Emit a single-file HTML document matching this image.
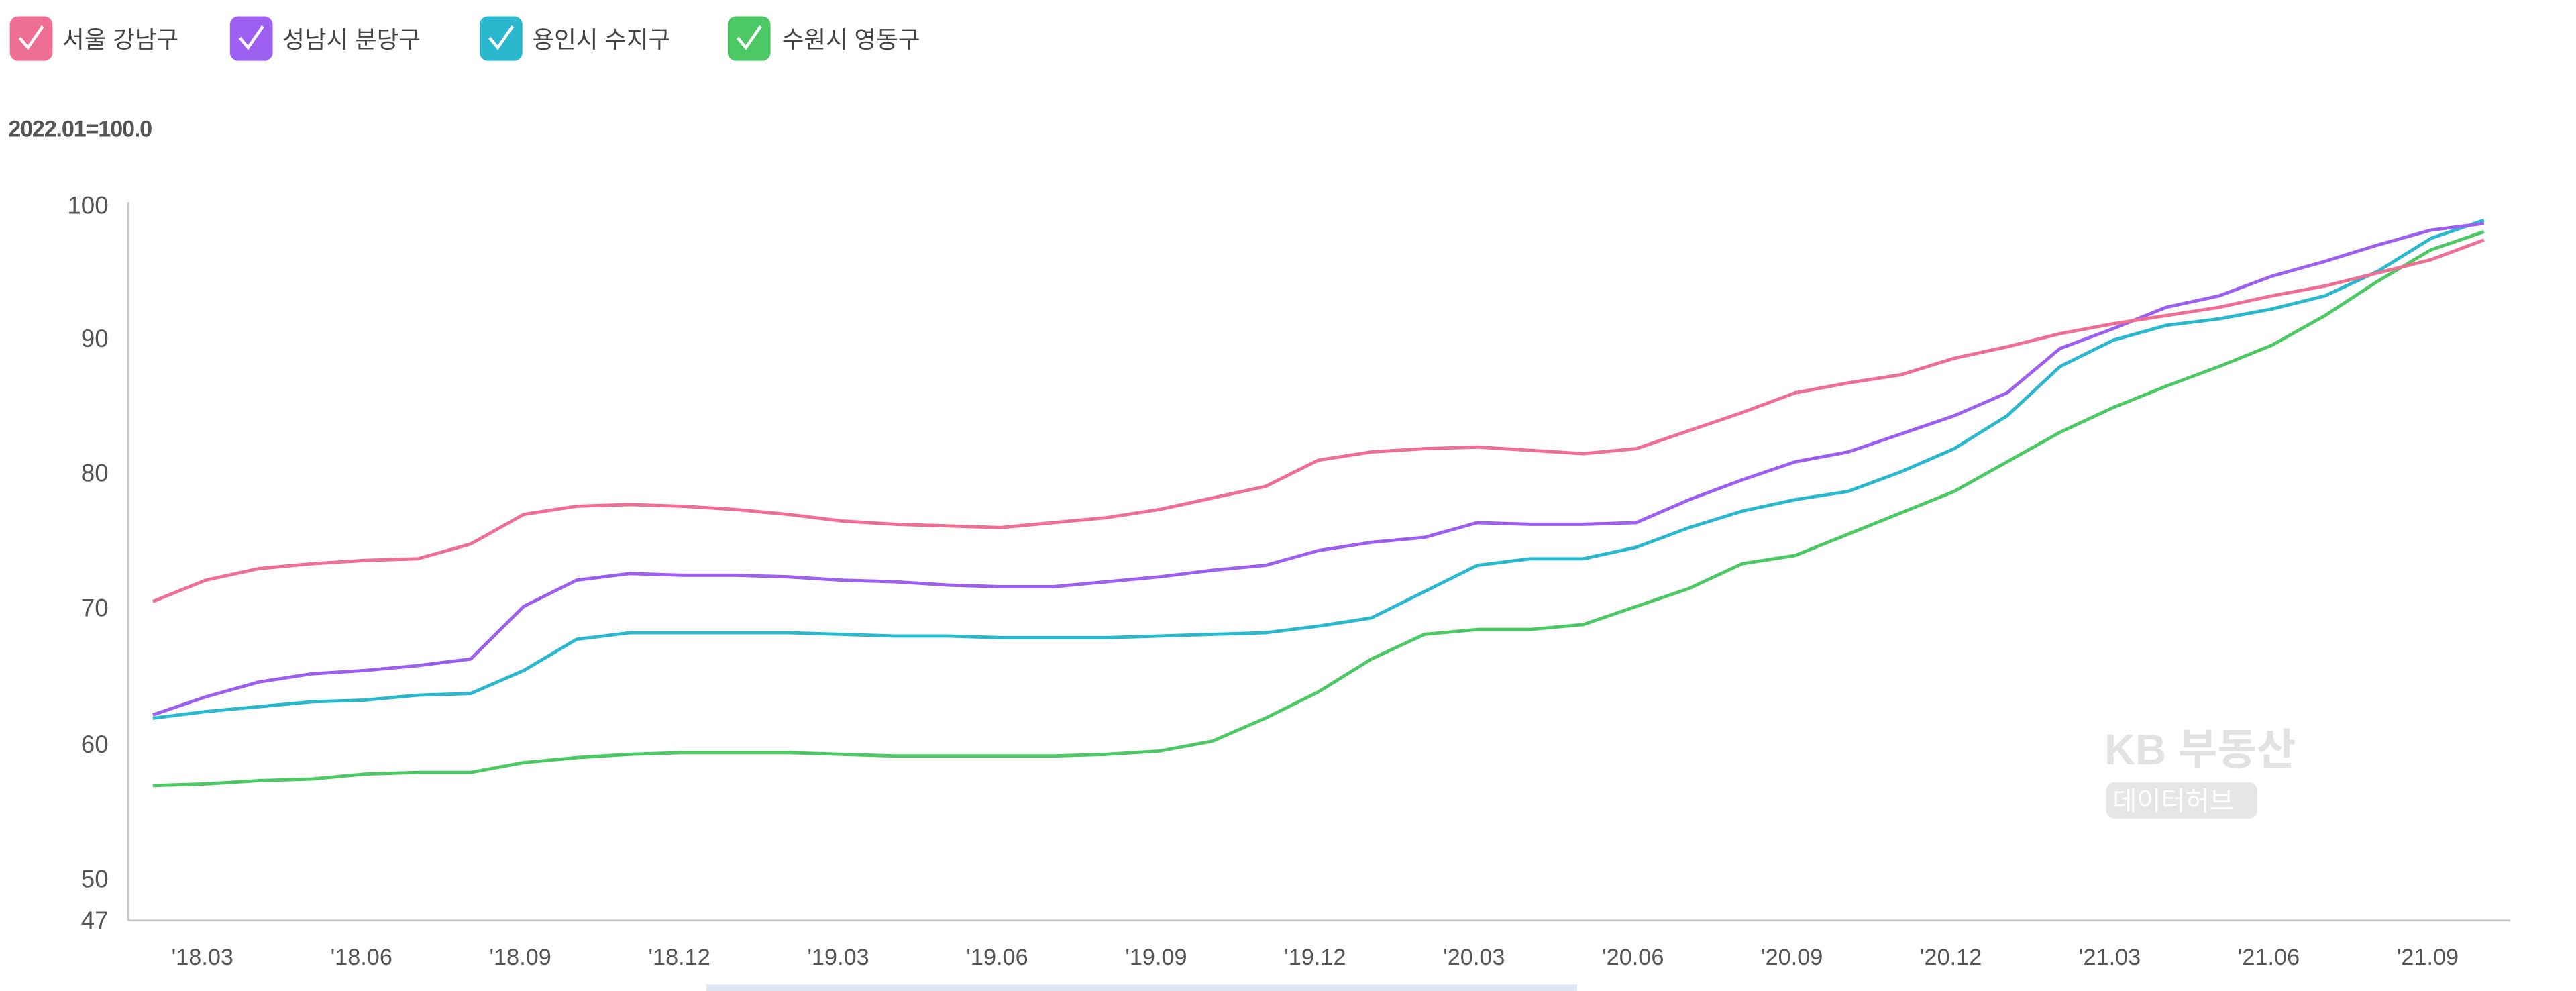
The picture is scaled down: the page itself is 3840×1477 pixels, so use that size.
<!DOCTYPE html>
<html><head><meta charset="utf-8"><style>
html,body{margin:0;padding:0;background:#fff;width:3840px;height:1477px;overflow:hidden}
svg{display:block}
text{font-family:"Liberation Sans","Noto Sans CJK KR",sans-serif}
</style></head><body>
<svg id="c" width="3840" height="1477" viewBox="0 0 1568 603" preserveAspectRatio="none" xmlns="http://www.w3.org/2000/svg">
<!-- legend -->
<g font-size="14.5" fill="#444">
<rect x="6" y="10" width="26" height="27" rx="5" fill="#ee6e94"/><path d="M12 23 l5 6 l9 -13" stroke="#fff" stroke-width="1.8" fill="none"/>
<text x="38" y="29">서울 강남구</text>
<rect x="140" y="10" width="26" height="27" rx="5" fill="#9d5ff0"/><path d="M146 23 l5 6 l9 -13" stroke="#fff" stroke-width="1.8" fill="none"/>
<text x="172" y="29">성남시 분당구</text>
<rect x="292" y="10" width="26" height="27" rx="5" fill="#2ab8cf"/><path d="M298 23 l5 6 l9 -13" stroke="#fff" stroke-width="1.8" fill="none"/>
<text x="324" y="29">용인시 수지구</text>
<rect x="443" y="10" width="26" height="27" rx="5" fill="#4cc964"/><path d="M449 23 l5 6 l9 -13" stroke="#fff" stroke-width="1.8" fill="none"/>
<text x="476" y="29">수원시 영동구</text>
</g>
<text x="5" y="83" font-size="14" fill="#555" font-weight="bold" letter-spacing="-0.5">2022.01=100.0</text>
<!-- watermark -->
<text x="1281" y="465" font-size="26" font-weight="bold" fill="#e2e2e2">KB 부동산</text>
<rect x="1282" y="476" width="92" height="22" rx="5" fill="#e6e6e6"/>
<text x="1286" y="493" font-size="16" fill="#fff">데이터허브</text>
<!-- axes -->
<g stroke="#c8c8c8" stroke-width="1.2"><line x1="78" y1="123" x2="78" y2="560"/><line x1="78" y1="560" x2="1528" y2="560"/></g>
<g font-size="15" fill="#555" text-anchor="end">
<text x="66" y="130">100</text><text x="66" y="211">90</text><text x="66" y="293">80</text><text x="66" y="375">70</text><text x="66" y="458">60</text><text x="66" y="540">50</text><text x="66" y="565">47</text>
</g>
<g id="xl" font-size="14" fill="#555" text-anchor="middle"></g>
<rect x="430" y="599" width="530" height="4" fill="#dfe6f3"/>
<g id="lines" fill="none" stroke-width="2" stroke-linejoin="round"></g>
</svg>
<script>
var ns="http://www.w3.org/2000/svg";
function X(i){return 93+i*32.25;}
var data={
"#4cc964":[478,477,475,474,471,470,470,464,461,459,458,458,458,459,460,460,460,460,459,457,451,437,421,401,386,383,383,380,369,358,343,338,325,312,299,281,263,248,235,223,210,192,171,152,141],
"#2ab8cf":[437,433,430,427,426,423,422,408,389,385,385,385,385,386,387,387,388,388,388,387,386,385,381,376,360,344,340,340,333,321,311,304,299,287,273,253,223,207,198,194,188,180,165,145,134],
"#9d5ff0":[435,424,415,410,408,405,401,369,353,349,350,350,351,353,354,356,357,357,354,351,347,344,335,330,327,318,319,319,318,304,292,281,275,264,253,239,212,200,187,180,168,159,149,140,136],
"#ee6e94":[366,353,346,343,341,340,331,313,308,307,308,310,313,317,319,320,321,318,315,310,303,296,280,275,273,272,274,276,273,262,251,239,233,228,218,211,203,197,192,187,180,174,166,158,146]
};
var g=document.getElementById("lines");
for(var c in data){var p=document.createElementNS(ns,"polyline");p.setAttribute("stroke",c);
p.setAttribute("points",data[c].map(function(v,i){return X(i)+","+v}).join(" "));g.appendChild(p);}
var labs=["'18.03","'18.06","'18.09","'18.12","'19.03","'19.06","'19.09","'19.12","'20.03","'20.06","'20.09","'20.12","'21.03","'21.06","'21.09"];
var xl=document.getElementById("xl");
labs.forEach(function(l,k){var t=document.createElementNS(ns,"text");t.setAttribute("x",X(1+3*k)-2);t.setAttribute("y",587);t.textContent=l;xl.appendChild(t);});
</script>
</body></html>
